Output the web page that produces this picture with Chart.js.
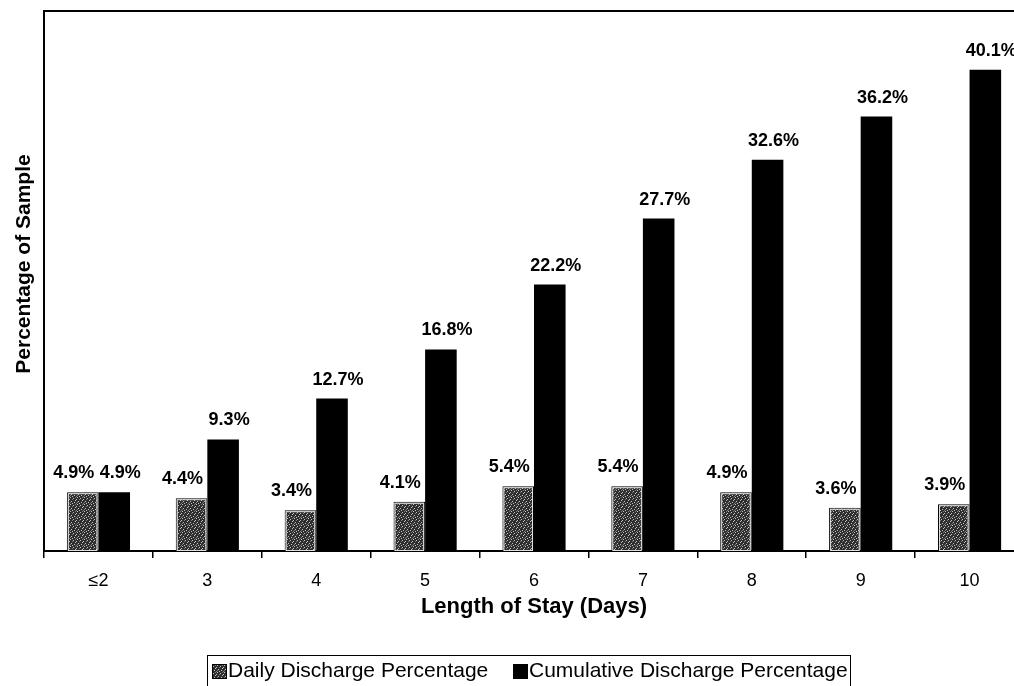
<!DOCTYPE html>
<html>
<head>
<meta charset="utf-8">
<script src="https://cdn.jsdelivr.net/npm/chart.js@4.4.0/dist/chart.umd.min.js"></script>
<style>
  html, body { margin: 0; padding: 0; background: #fff; overflow: hidden; }
  #wrap { width: 1024px; height: 686px; }
</style>
</head>
<body>
<div id="wrap"><canvas id="chart" width="1024" height="686"></canvas></div>
<script>
// chart data
const categories = ['≤2', '3', '4', '5', '6', '7', '8', '9', '10'];
const dailyValues = [4.9, 4.4, 3.4, 4.1, 5.4, 5.4, 4.9, 3.6, 3.9];
const cumulativeValues = [4.9, 9.3, 12.7, 16.8, 22.2, 27.7, 32.6, 36.2, 40.1];
const seriesNames = ['Daily Discharge Percentage', 'Cumulative Discharge Percentage'];
const yTitle = 'Percentage of Sample';
const xTitle = 'Length of Stay (Days)';

const FONT = "'Liberation Sans', Arial, sans-serif";

// speckled grey fill like the scanned original
function makeSpeckle() {
    const c = document.createElement('canvas');
    c.width = 7; c.height = 7;
    const g = c.getContext('2d');
    g.fillStyle = '#2e2e2e';
    g.fillRect(0, 0, 7, 7);
    g.fillStyle = '#c4c4c4';
    [[0,0],[3,1],[6,2],[1,4],[4,5],[2,6],[5,3]].forEach(p => g.fillRect(p[0], p[1], 1, 1));
    g.fillStyle = '#7a7a7a';
    [[2,2],[5,0],[0,5],[6,6]].forEach(p => g.fillRect(p[0], p[1], 1, 1));
    return g.createPattern(c, 'repeat');
}

const ctx = document.getElementById('chart').getContext('2d');
const speckle = makeSpeckle();

// value labels above bars, top frame line, y title and boxed legend
const extras = {
    id: 'extras',
    afterDatasetsDraw(chart) {
        const c = chart.ctx;
        c.save();
        // light inner edge on the speckled bars
        c.strokeStyle = '#e0e0e0';
        c.lineWidth = 1;
        chart.getDatasetMeta(0).data.forEach(bar => {
            const w = bar.width;
            c.strokeRect(bar.x - w / 2 + 1.5, bar.y + 1.5, w - 3, bar.base - bar.y - 2);
        });
        c.font = 'bold 18px ' + FONT;
        c.fillStyle = '#000';
        c.textAlign = 'center';
        c.textBaseline = 'bottom';
        chart.data.datasets.forEach((ds, di) => {
            const shift = di === 0 ? -9 : 6;
            chart.getDatasetMeta(di).data.forEach((bar, i) => {
                c.fillText(ds.data[i].toFixed(1) + '%', bar.x + shift, bar.y - 10);
            });
        });
        c.restore();
    },
    afterDraw(chart) {
        const c = chart.ctx;
        const area = chart.chartArea;
        c.save();
        c.strokeStyle = '#000';
        c.lineWidth = 2;
        c.beginPath();
        c.moveTo(area.left - 1, area.top);
        c.lineTo(area.right, area.top);
        c.stroke();

        // y axis title
        c.fillStyle = '#000';
        c.font = 'bold 21px ' + FONT;
        c.textAlign = 'center';
        c.textBaseline = 'middle';
        c.translate(24, 264);
        c.rotate(-Math.PI / 2);
        c.fillText(yTitle, 0, 0);
        c.setTransform(1, 0, 0, 1, 0, 0);

        // legend
        c.lineWidth = 1;
        c.strokeRect(207.5, 655.5, 643, 40);
        c.font = '21px ' + FONT;
        c.textAlign = 'left';
        const items = [
            { x: 212, fill: speckle, label: seriesNames[0] },
            { x: 513, fill: '#000', label: seriesNames[1] }
        ];
        items.forEach(it => {
            c.fillStyle = it.fill;
            c.fillRect(it.x, 664, 14, 14);
            c.strokeStyle = '#000';
            c.strokeRect(it.x + 0.5, 664.5, 14, 14);
            c.fillStyle = '#000';
            c.fillText(it.label, it.x + 16, 671);
        });
        c.restore();
    }
};

new Chart(ctx, {
    type: 'bar',
    data: {
        labels: categories,
        datasets: [{
            label: seriesNames[0],
            data: dailyValues,
            backgroundColor: speckle,
            borderColor: '#000',
            borderWidth: 1,
            categoryPercentage: 0.58,
            barPercentage: 1
        }, {
            label: seriesNames[1],
            data: cumulativeValues,
            backgroundColor: '#000',
            borderColor: '#000',
            borderWidth: 0,
            categoryPercentage: 0.58,
            barPercentage: 1
        }]
    },
    options: {
        responsive: false,
        animation: false,
        layout: { padding: { top: 11, left: 0, right: 0, bottom: 0 } },
        plugins: {
            legend: { display: false },
            tooltip: { enabled: false }
        },
        scales: {
            x: {
                offset: true,
                grid: {
                    display: true,
                    offset: true,
                    drawOnChartArea: false,
                    drawTicks: true,
                    tickLength: 7,
                    color: '#000',
                    lineWidth: 1.5
                },
                border: { display: true, color: '#000', width: 2 },
                ticks: {
                    color: '#000',
                    padding: 12,
                    font: { family: FONT, size: 18 }
                },
                title: {
                    display: true,
                    text: xTitle,
                    color: '#000',
                    font: { family: FONT, size: 22, weight: 'bold' },
                    padding: { top: 4, bottom: 66 }
                },
                afterFit(scale) { scale.height = 135; }
            },
            y: {
                min: 0,
                max: 45,
                grid: { display: false },
                border: { display: true, color: '#000', width: 2 },
                ticks: { display: false },
                title: { display: false },
                afterFit(scale) { scale.width = 44; }
            }
        }
    },
    plugins: [extras]
});
</script>
</body>
</html>
